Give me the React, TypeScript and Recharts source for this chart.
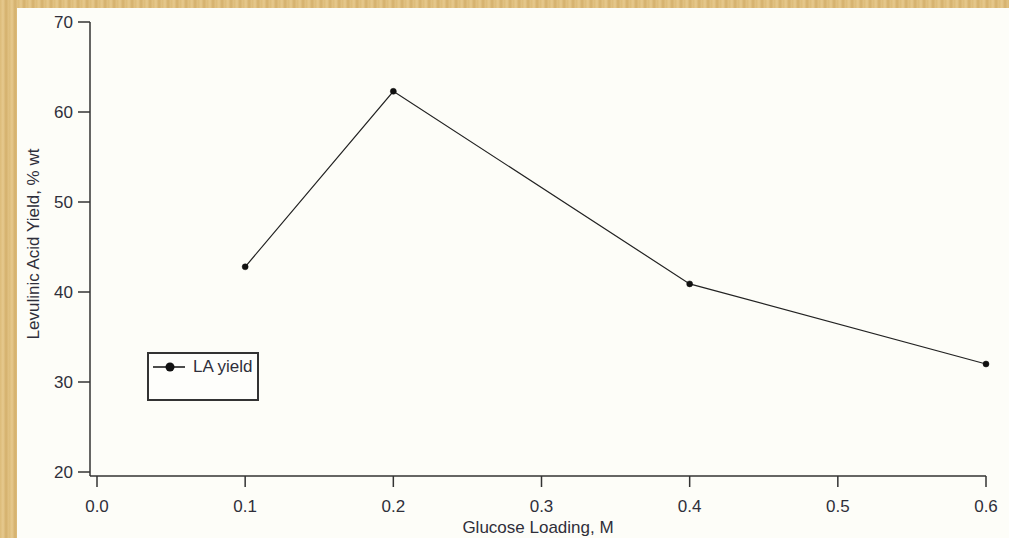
import { LineChart, Line, XAxis, YAxis, Legend, Label } from "recharts";

// glucose loading (M) and levulinic acid yield (% wt)
const loadings = [0.1, 0.2, 0.4, 0.6];
const laYield = [42.8, 62.3, 40.9, 32.0];
const xTicks = [0, 0.1, 0.2, 0.3, 0.4, 0.5, 0.6];
const yTicks = [20, 30, 40, 50, 60, 70];

const data = loadings.map((x, i) => ({ loading: x, yield: laYield[i] }));

const FONT = '"Liberation Sans", Arial, Helvetica, sans-serif';
const INK = "#333";
const TEXT = "#2f2f3a";
const tickStyle = { fill: TEXT, fontSize: 17, fontFamily: FONT };
const axisStroke = { stroke: INK, strokeWidth: 1.5 };

function LegendBox({ payload }: any) {
  const item = payload && payload[0];
  return (
    <div
      style={{
        boxSizing: "border-box",
        width: 112,
        height: 49,
        border: `2px solid ${INK}`,
        background: "#fefefb",
        position: "relative",
        fontFamily: FONT,
      }}
    >
      <svg width={34} height={12} style={{ position: "absolute", left: 4, top: 7 }}>
        <line x1={0} y1={6} x2={32} y2={6} stroke="#111" strokeWidth={1.5} />
        <circle cx={17} cy={6} r={4.5} fill="#111" />
      </svg>
      <span
        style={{
          position: "absolute",
          left: 44,
          top: 3,
          fontSize: 17,
          color: TEXT,
          lineHeight: "20px",
        }}
      >
        {item ? item.value : ""}
      </span>
    </div>
  );
}

export default function App() {
  return (
    <div
      style={{
        position: "absolute",
        left: 0,
        top: 0,
        width: 1009,
        height: 538,
        overflow: "hidden",
        background:
          "repeating-linear-gradient(90deg, #dcbb78 0px, #e6c98e 3px, #d4b06c 6px, #e2c385 9px)",
      }}
    >
      <div
        style={{
          position: "absolute",
          left: 17,
          top: 8,
          right: 0,
          bottom: 0,
          background: "#fdfdf8",
        }}
      />
      <div style={{ position: "absolute", left: 0, top: 0 }}>
        <LineChart
          width={1009}
          height={538}
          data={data}
          margin={{ top: 22, right: 23, bottom: 0, left: 0 }}
        >
          <XAxis
            dataKey="loading"
            type="number"
            domain={[0, 0.6]}
            ticks={xTicks}
            tickFormatter={(v: number) => v.toFixed(1)}
            padding={{ left: 7, right: 0 }}
            tick={tickStyle}
            axisLine={axisStroke}
            tickLine={axisStroke}
            tickSize={11}
            tickMargin={13}
            height={62}
            interval={0}
          >
            <Label
              content={({ viewBox }: any) => (
                <text
                  x={viewBox.x + viewBox.width / 2}
                  y={viewBox.y + 57}
                  textAnchor="middle"
                  fill={TEXT}
                  fontSize={17}
                  fontFamily={FONT}
                >
                  Glucose Loading, M
                </text>
              )}
            />
          </XAxis>
          <YAxis
            type="number"
            domain={[20, 70]}
            ticks={yTicks}
            padding={{ top: 0, bottom: 4 }}
            tick={tickStyle}
            axisLine={axisStroke}
            tickLine={axisStroke}
            tickSize={12}
            tickMargin={5}
            width={90}
            interval={0}
          >
            <Label
              content={({ viewBox }: any) => {
                const cx = viewBox.x + 39;
                const cy = viewBox.y + viewBox.height / 2 - 5;
                return (
                  <text
                    x={cx}
                    y={cy}
                    transform={`rotate(-90 ${cx} ${cy})`}
                    textAnchor="middle"
                    fill={TEXT}
                    fontSize={17}
                    fontFamily={FONT}
                  >
                    Levulinic Acid Yield, % wt
                  </text>
                );
              }}
            />
          </YAxis>
          <Legend
            layout="vertical"
            align="center"
            verticalAlign="middle"
            content={<LegendBox />}
            wrapperStyle={{ position: "absolute", left: 147, top: 352, width: 112, height: 49 }}
          />
          <Line
            type="linear"
            dataKey="yield"
            name="LA yield"
            stroke="#222"
            strokeWidth={1.2}
            dot={{ r: 3, fill: "#111", stroke: "#111", strokeWidth: 0.5 }}
            activeDot={false}
            isAnimationActive={false}
          />
        </LineChart>
      </div>
    </div>
  );
}
